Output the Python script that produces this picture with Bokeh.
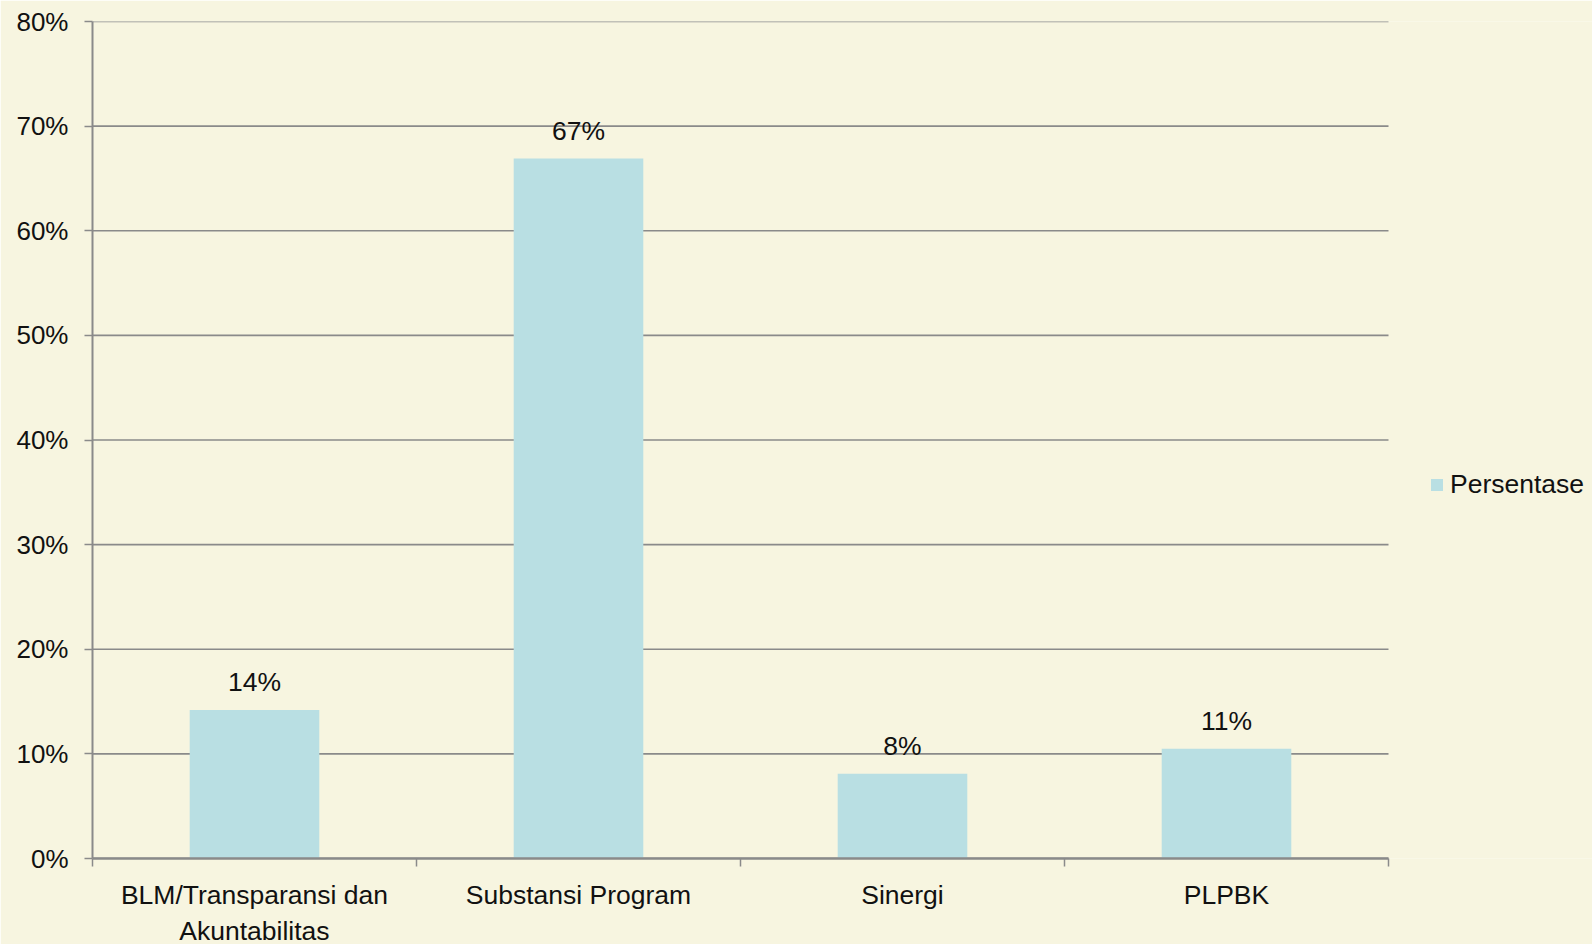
import re
from bokeh.plotting import figure
from bokeh.models import (ColumnDataSource, FixedTicker, PrintfTickFormatter, Legend,
                          LegendItem, Range1d)
from bokeh.core.properties import value
from bokeh.embed import file_html
from bokeh.resources import INLINE

categories = ["BLM/Transparansi dan\nAkuntabilitas", "Substansi Program", "Sinergi", "PLPBK"]
persentase = [14.2, 66.9, 8.1, 10.5]
y_ticks = [0, 10, 20, 30, 40, 50, 60, 70, 80]
series_name = "Persentase"

BG = "#F7F5E0"
BAR = "#B9DFE3"
GRID = "#8A8A8A"
FONT = "Liberation Sans"
TXT = "#111111"
FS = "26.5px"
FS_Y = "26px"

W, LEFT, TOP, FRAME_W, FRAME_H = 1592, 92, 21, 1296, 837
n = len(categories)
xs = [i + 0.5 for i in range(n)]
labels = [f"{int(v + 0.5):d}%" for v in persentase]
src = ColumnDataSource(dict(x=xs, y=persentase, lab=labels))

p = figure(width=W, height=980, output_backend="svg", toolbar_location=None,
           x_range=Range1d(0, n * (W - LEFT) / FRAME_W), y_range=Range1d(0, 80),
           min_border_left=LEFT, min_border_right=0, min_border_top=TOP,
           min_border_bottom=980 - TOP - FRAME_H)
p.background_fill_color = BG
p.border_fill_color = BG
p.outline_line_color = None

# horizontal gridlines (limited to the category span)
p.segment(x0=0, x1=n, y0=y_ticks, y1=y_ticks, line_color=GRID, line_width=1.6)

r = p.vbar(x="x", top="y", width=0.4, bottom=0, source=src, fill_color=BAR, line_color=None)
p.text(x="x", y="y", text="lab", source=src, text_align="center", text_baseline="alphabetic",
       y_offset=-28, text_font=value(FONT), text_font_size=FS, text_color=TXT)

# x axis
p.xaxis.bounds = (0, n)
p.xaxis.ticker = FixedTicker(ticks=xs, minor_ticks=list(range(n + 1)))
p.xaxis.major_label_overrides = {x: c for x, c in zip(xs, categories)}
p.xaxis.major_tick_out = 0
p.xaxis.major_tick_in = 0
p.xaxis.minor_tick_out = 8
p.xaxis.minor_tick_in = 0
p.xaxis.minor_tick_line_color = GRID
p.xaxis.minor_tick_line_width = 1.5
p.xaxis.axis_line_color = GRID
p.xaxis.axis_line_width = 2.5
p.xaxis.major_label_standoff = 13
p.xaxis.major_label_text_font = FONT
p.xaxis.major_label_text_font_size = FS
p.xaxis.major_label_text_color = TXT
p.xgrid.grid_line_color = None
p.ygrid.grid_line_color = None

# y axis
p.yaxis.ticker = FixedTicker(ticks=y_ticks)
p.yaxis.formatter = PrintfTickFormatter(format="%d%%")
p.yaxis.major_tick_out = 8
p.yaxis.major_tick_in = 0
p.yaxis.minor_tick_line_color = None
p.yaxis.major_tick_line_color = GRID
p.yaxis.major_tick_line_width = 1.5
p.yaxis.axis_line_color = GRID
p.yaxis.axis_line_width = 2
p.yaxis.major_label_standoff = 16
p.yaxis.major_label_text_font = FONT
p.yaxis.major_label_text_font_size = FS_Y
p.yaxis.major_label_text_color = TXT

legend = Legend(items=[LegendItem(label=series_name, renderers=[r])], location=(1337, 358),
                background_fill_alpha=0, border_line_color=None, padding=0, margin=0,
                glyph_width=15, glyph_height=15, label_standoff=6,
                label_text_font=FONT, label_text_font_size=FS, label_text_color=TXT)
p.add_layout(legend, "center")

html = file_html(p, INLINE)
html = re.sub(r"<body[^>]*>", f'<body style="background:{BG};overflow:hidden;">', html, count=1)
open("out.html", "w").write(html)
